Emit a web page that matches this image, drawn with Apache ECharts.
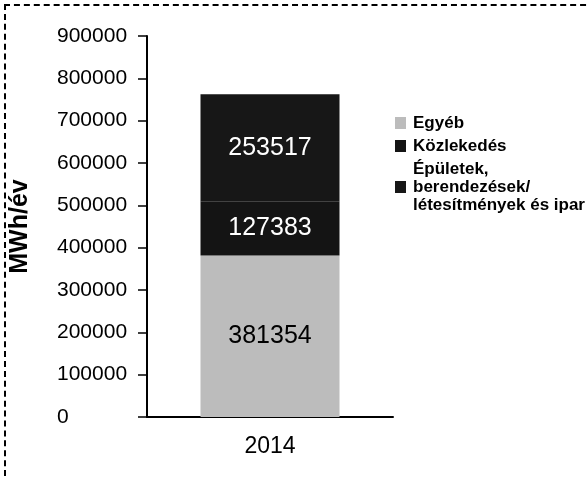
<!DOCTYPE html>
<html>
<head>
<meta charset="utf-8">
<script src="https://cdn.jsdelivr.net/npm/echarts@6/dist/echarts.min.js"></script>
<style>
	html, body { margin: 0; padding: 0; background: #fff; }
	#frame { position: absolute; left: 4px; top: 4px; width: 590px; height: 480px;
		border-top: 2px dashed #000; border-left: 2px dashed #000; }
	#main { position: absolute; left: 0; top: 0; width: 587px; height: 478px; }
</style>
</head>
<body>
<div id="frame"></div>
<div id="main"></div>
<script>
var categories = ['2014'];
var egyeb = [381354];
var kozlekedes = [127383];
var epuletek = [253517];
var seriesNames = ['Egyéb', 'Közlekedés', 'Épületek,\nberendezések/\nlétesítmények és ipar'];
var yTicks = [0, 900000, 100000]; // min, max, interval

var myChart = echarts.init(document.getElementById('main'));

var font = 'Liberation Sans, Arial, sans-serif';

function labelOf(col) {
	return {
		show: true,
		position: 'inside',
		color: col,
		fontSize: 25,
		fontFamily: font,
		formatter: function (p) { return String(p.value); }
	};
}

var option = {
	animation: false,
	grid: { left: 147, right: 194, top: 36, bottom: 61 },
	legend: {
		orient: 'vertical',
		left: 390,
		top: 109,
		itemWidth: 11,
		itemHeight: 12,
		itemGap: 5,
		icon: 'rect',
		data: seriesNames,
		textStyle: { fontSize: 17, fontWeight: 'bold', color: '#000', fontFamily: font, lineHeight: 18, padding: [0, 0, 0, 2] }
	},
	xAxis: {
		type: 'category',
		data: categories,
		axisLine: { lineStyle: { color: '#000', width: 2 } },
		axisTick: { show: false },
		axisLabel: { color: '#000', fontSize: 23, fontFamily: font, margin: 18 }
	},
	yAxis: {
		type: 'value',
		min: yTicks[0],
		max: yTicks[1],
		interval: yTicks[2],
		name: 'MWh/év',
		nameLocation: 'middle',
		nameRotate: 90,
		nameGap: 114,
		nameTextStyle: { fontSize: 25, fontWeight: 'bold', color: '#000', fontFamily: font },
		splitLine: { show: false },
		axisLine: { show: true, lineStyle: { color: '#000', width: 2 } },
		axisTick: { show: true, length: 9, lineStyle: { color: '#000', width: 1.5 } },
		axisLabel: {
			color: '#000', fontSize: 21, fontFamily: font, align: 'left', margin: 90,
			formatter: function (v) { return String(v); }
		}
	},
	series: [
		{
			name: seriesNames[0],
			type: 'bar',
			stack: 'total',
			barWidth: 139,
			data: egyeb,
			itemStyle: { color: '#bcbcbc' },
			label: labelOf('#000')
		},
		{
			name: seriesNames[1],
			type: 'bar',
			stack: 'total',
			data: kozlekedes,
			itemStyle: { color: '#141414' },
			label: labelOf('#fff')
		},
		{
			name: seriesNames[2],
			type: 'bar',
			stack: 'total',
			data: epuletek,
			itemStyle: { color: '#171717' },
			label: labelOf('#fff')
		}
	]
};

myChart.setOption(option);
</script>
</body>
</html>
